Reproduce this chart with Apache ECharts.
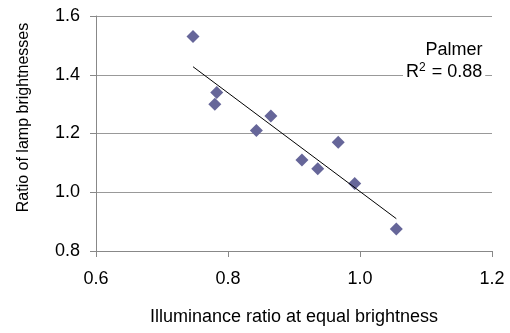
<!DOCTYPE html>
<html>
<head>
    <meta charset="utf-8">
    <title>Palmer scatter</title>
    <style>
        html,body{margin:0;padding:0;background:#fff;}
    </style>
    <script src="https://cdn.jsdelivr.net/npm/echarts@6/dist/echarts.min.js"></script>
</head>
<body>
<div id="main" style="width:510px;height:333px;"></div>
<script type="text/javascript">
    // illuminance ratio at equal brightness (x) vs ratio of lamp brightnesses (y)
    var illumRatio = [0.747, 0.783, 0.780, 0.843, 0.865, 0.912, 0.967, 0.936, 0.992, 1.055];
    var lampRatio  = [1.53, 1.34, 1.30, 1.21, 1.26, 1.11, 1.17, 1.08, 1.03, 0.875];
    var xTicks = [0.6, 0.8, 1.0, 1.2];
    var yTicks = [0.8, 1.0, 1.2, 1.4, 1.6];
    var label1 = 'Palmer';
    var rSquared = '0.88';

    var points = illumRatio.map(function (x, i) { return [x, lampRatio[i]]; });

    // least squares trend line over the data range
    var n = points.length, mx = 0, my = 0;
    points.forEach(function (p) { mx += p[0]; my += p[1]; });
    mx /= n; my /= n;
    var sxy = 0, sxx = 0;
    points.forEach(function (p) { sxy += (p[0] - mx) * (p[1] - my); sxx += (p[0] - mx) * (p[0] - mx); });
    var slope = sxy / sxx, icpt = my - slope * mx;
    var xMin = Math.min.apply(null, illumRatio), xMax = Math.max.apply(null, illumRatio);
    var trend = [[xMin, icpt + slope * xMin], [xMax, icpt + slope * xMax]];

    var font = 'Liberation Sans, Arial, sans-serif';
    var myChart = echarts.init(document.getElementById('main'));
    myChart.setOption({
        animation: false,
        grid: {left: 96, right: 18, top: 16, bottom: 82},
        title: [
            {text: label1, left: 449, top: 36, textAlign: 'center',
                textStyle: {fontFamily: font, fontSize: 18, fontWeight: 'normal', color: '#000'}},
            {text: 'R{sup|2} = ' + rSquared, left: 403, top: 60, padding: [2, 3, 2, 3],
                backgroundColor: '#fff',
                textStyle: {fontFamily: font, fontSize: 18, fontWeight: 'normal', color: '#000',
                    rich: {sup: {fontFamily: font, fontSize: 12, verticalAlign: 'top', padding: [0, 1, 8, 0], color: '#000'}}}}
        ],
        xAxis: {
            type: 'value', min: xTicks[0], max: xTicks[xTicks.length - 1], interval: 0.2,
            name: 'Illuminance ratio at equal brightness', nameLocation: 'middle', nameGap: 57,
            nameTextStyle: {fontFamily: font, fontSize: 18, color: '#000'},
            axisLine: {show: true, lineStyle: {color: '#888', width: 1}},
            axisTick: {show: true, length: 6, lineStyle: {color: '#888'}},
            splitLine: {show: false},
            axisLabel: {fontFamily: font, fontSize: 18, color: '#000', margin: 19,
                formatter: function (v) { return v.toFixed(1); }}
        },
        yAxis: {
            type: 'value', min: yTicks[0], max: yTicks[yTicks.length - 1], interval: 0.2,
            name: 'Ratio of lamp brightnesses', nameLocation: 'middle', nameGap: 64,
            nameTextStyle: {fontFamily: font, fontSize: 16, color: '#000', padding: [0, 0, 0, 32]},
            axisLine: {show: true, lineStyle: {color: '#888', width: 1}},
            axisTick: {show: true, length: 6, lineStyle: {color: '#888'}},
            splitLine: {show: true, lineStyle: {color: '#999', width: 1}},
            axisLabel: {fontFamily: font, fontSize: 18, color: '#000', margin: 16,
                formatter: function (v) { return v.toFixed(1); }}
        },
        series: [
            {
                type: 'line', data: trend, symbol: 'none', silent: true, z: 3,
                lineStyle: {color: '#000', width: 1}
            },
            {
                type: 'scatter', data: points, symbol: 'diamond', symbolSize: 13, z: 2,
                itemStyle: {color: '#666699', opacity: 1}
            }
        ]
    });
</script>
</body>
</html>
